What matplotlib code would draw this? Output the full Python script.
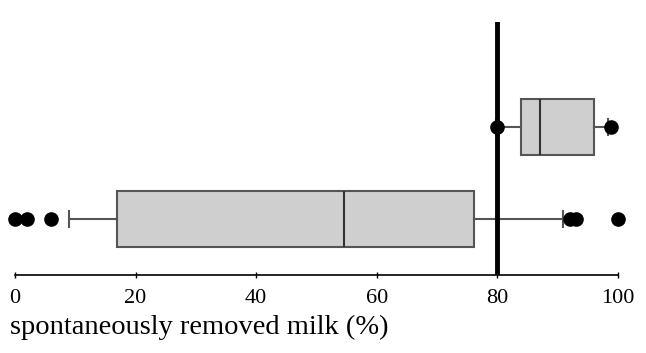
import matplotlib
matplotlib.use("Agg")
import matplotlib.pyplot as plt

plt.rcParams['font.family'] = ['Liberation Serif', 'DejaVu Serif']

# Data
groups = ["lower", "upper"]
positions = [0.221, 0.585]
q1 = [16.9, 83.9]
medians = [54.6, 87.1]
q3 = [76.1, 96.0]
whislo = [9.0, 79.8]
whishi = [90.9, 98.3]
fliers = [[0.0, 2.0, 6.0, 92.0, 93.0, 100.0], [80.0, 98.8]]
threshold = 80
xticks = [0, 20, 40, 60, 80, 100]
xlabel = "spontaneously removed milk (%)"

stats = []
for i, g in enumerate(groups):
    stats.append(dict(label=g, q1=q1[i], med=medians[i], q3=q3[i],
                      whislo=whislo[i], whishi=whishi[i], fliers=fliers[i]))

fig = plt.figure(figsize=(6.46, 3.53), dpi=100)
ax = fig.add_axes([15/646, 1-275/353, (618-15)/646, (275-22)/353])

art = ax.bxp(stats, positions=positions, vert=False, widths=0.221,
             capwidths=0.065,
             patch_artist=True, showcaps=True,
             boxprops=dict(facecolor='#cfcfcf', edgecolor='#555555', linewidth=1.5),
             medianprops=dict(color='#333333', linewidth=1.5),
             whiskerprops=dict(color='#555555', linewidth=1.5),
             capprops=dict(color='#555555', linewidth=1.5),
             flierprops=dict(marker='o', markerfacecolor='black', markeredgecolor='black',
                             markersize=9.5))
for f in art['fliers']:
    f.set_clip_on(False)
    f.set_zorder(6)
ax.set_ylim(0, 1)
ax.set_xlim(0, 100)
ax.axvline(threshold, color='black', linewidth=3.5, ymin=0, ymax=1, zorder=5)

for s in ['top', 'right', 'left']:
    ax.spines[s].set_visible(False)
ax.spines['bottom'].set_linewidth(1.2)
ax.set_yticks([])
ax.set_xticks(xticks)
ax.set_xticklabels([str(t) for t in xticks])
ax.tick_params(axis='x', direction='inout', length=4, width=1, labelsize=16, pad=8)
ax.set_xlabel(xlabel, fontsize=20.5, loc='left')
ax.xaxis.set_label_coords(-5/603, -40/253)

fig.savefig("out.png", dpi=100)
